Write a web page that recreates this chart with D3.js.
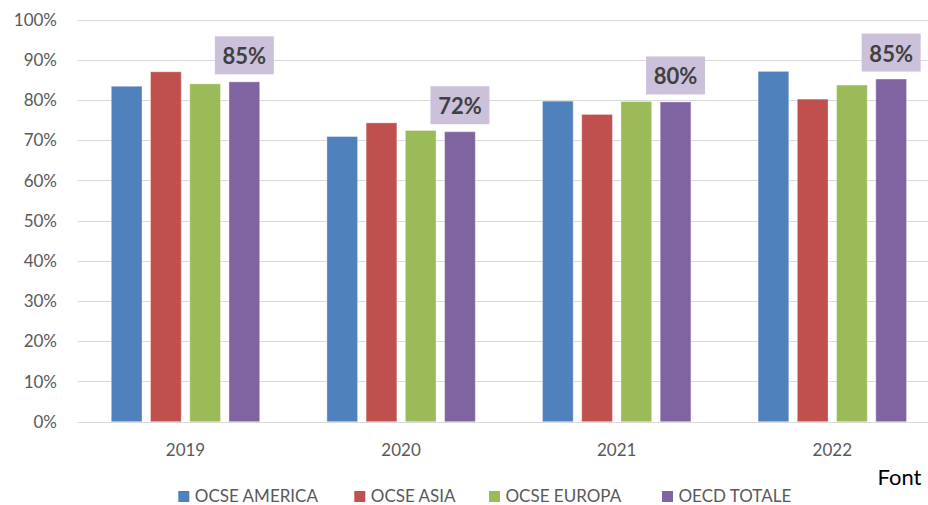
<!DOCTYPE html>
<html>
<head>
<meta charset="utf-8">
<script src="https://cdn.jsdelivr.net/npm/d3@7"></script>
<style>
  html, body { margin: 0; padding: 0; background: #ffffff; overflow: hidden; }
  svg { display: block; }
</style>
</head>
<body>
<svg id="chart" width="928" height="505"></svg>
<script>
// ---- Data ----
const years = ["2019", "2020", "2021", "2022"];
const seriesNames = ["OCSE AMERICA", "OCSE ASIA", "OCSE EUROPA", "OECD TOTALE"];
const america = [83.4, 70.9, 79.7, 87.1];
const asia    = [87.0, 74.3, 76.4, 80.2];
const europa  = [84.0, 72.4, 79.6, 83.7];
const totale  = [84.5, 72.1, 79.5, 85.2];
const totaleLabels = ["85%", "72%", "80%", "85%"];
const yTicks = [0, 10, 20, 30, 40, 50, 60, 70, 80, 90, 100];
const colors = ["#4F81BD", "#C0504D", "#9BBB59", "#8064A2"];
const sourceText = "Font";

const seriesValues = [america, asia, europa, totale];

// ---- Layout ----
const svg = d3.select("#chart");
const font = "Lato, 'Open Sans', sans-serif";

const y = d3.scaleLinear().domain([0, 100]).range([421.7, 19.5]);
const x = d3.scaleBand().domain(years).range([77.7, 940.1]).paddingInner(0).paddingOuter(0);
const xs = d3.scaleBand().domain(seriesNames).range([0, x.bandwidth()])
  .paddingInner(0.217).paddingOuter(0.856);

// gridlines
svg.append("g").selectAll("line").data(yTicks).join("line")
  .attr("x1", 77.7).attr("x2", 940)
  .attr("y1", d => Math.round(y(d)) + 0.5).attr("y2", d => Math.round(y(d)) + 0.5)
  .attr("stroke", "#d9d9d9").attr("stroke-width", 1.2);

// y tick labels
svg.append("g").selectAll("text").data(yTicks).join("text")
  .attr("x", 57).attr("y", d => y(d))
  .attr("dy", "0.36em")
  .attr("text-anchor", "end")
  .attr("font-family", font).attr("font-size", 17)
  .attr("fill", "#595959")
  .text(d => d + "%");

// bars
const barData = [];
years.forEach((yr, i) => {
  seriesNames.forEach((s, j) => {
    barData.push({ year: yr, series: s, value: seriesValues[j][i], color: colors[j] });
  });
});
svg.append("g").selectAll("rect").data(barData).join("rect")
  .attr("x", d => x(d.year) + xs(d.series))
  .attr("y", d => y(d.value))
  .attr("width", xs.bandwidth())
  .attr("height", d => y(0) - y(d.value))
  .attr("fill", d => d.color)
  .attr("stroke", "rgba(255,255,255,0.35)")
  .attr("stroke-width", 1);

// x axis line
svg.append("line")
  .attr("x1", 77.7).attr("x2", 940)
  .attr("y1", Math.round(y(0)) + 0.5).attr("y2", Math.round(y(0)) + 0.5)
  .attr("stroke", "#d9d9d9").attr("stroke-width", 1.2);

// year labels
svg.append("g").selectAll("text").data(years).join("text")
  .attr("x", d => x(d) + x.bandwidth() / 2)
  .attr("y", 456)
  .attr("text-anchor", "middle")
  .attr("font-family", font).attr("font-size", 17)
  .attr("fill", "#595959")
  .text(d => d);

// data labels on OECD TOTALE
const lbl = svg.append("g").selectAll("g").data(years).join("g")
  .attr("transform", (d, i) => {
    const cx = x(d) + xs(seriesNames[3]) + xs.bandwidth() / 2;
    const top = y(totale[i]);
    return `translate(${cx},${top - 7.5 - 19})`;
  });
lbl.append("rect")
  .attr("x", -29.5).attr("y", -19).attr("width", 59).attr("height", 38)
  .attr("fill", "#CCC1DA");
lbl.append("text")
  .attr("x", 0).attr("y", 9)
  .attr("text-anchor", "middle")
  .attr("font-family", font).attr("font-size", 22).attr("font-weight", "bold")
  .attr("fill", "#404040")
  .text((d, i) => totaleLabels[i]);

// legend
const legendX = [178.3, 354.3, 489, 662];
const lg = svg.append("g").selectAll("g").data(seriesNames).join("g")
  .attr("transform", (d, i) => `translate(${legendX[i]},0)`);
lg.append("rect")
  .attr("x", 0).attr("y", 491).attr("width", 11).attr("height", 11)
  .attr("fill", (d, i) => colors[i]);
lg.append("text")
  .attr("x", 16.5).attr("y", 502)
  .attr("font-family", font).attr("font-size", 17)
  .attr("fill", "#595959")
  .text(d => d);

// source text
svg.append("text")
  .attr("x", 877.5).attr("y", 485)
  .attr("font-family", font).attr("font-size", 22)
  .attr("fill", "#000000")
  .text(sourceText);
</script>
</body>
</html>
